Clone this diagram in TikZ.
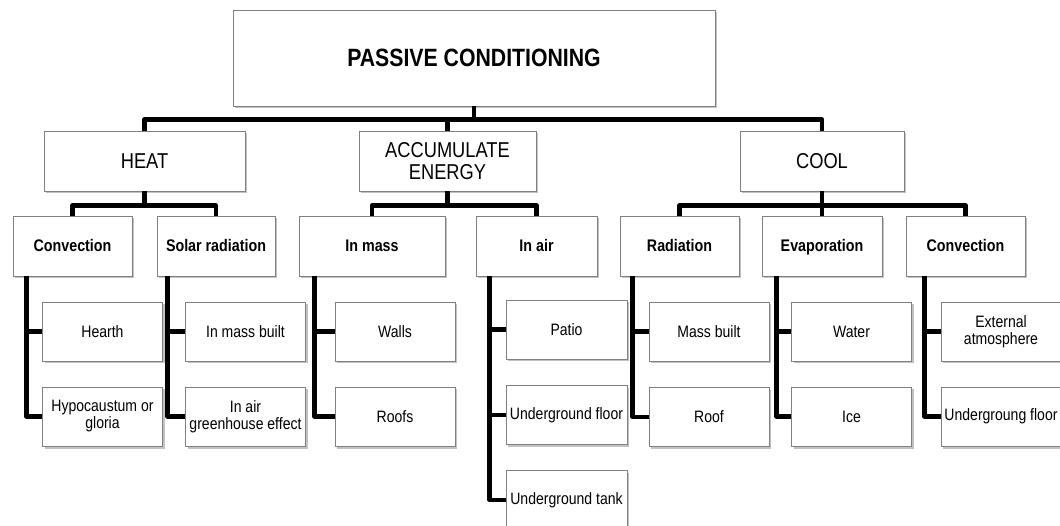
\documentclass[tikz,border=0pt]{standalone}
\usepackage{fontspec}
\setmainfont{Liberation Sans}[FakeStretch=0.85]
\usetikzlibrary{shadows}
\tikzset{
	box/.style={draw=black!50, line width=0.9pt, fill=white, inner sep=0pt, align=center,
		drop shadow={shadow xshift=2pt, shadow yshift=-2.5pt, fill=black!40, opacity=0.6}},
	rootbox/.style={box, minimum width=482pt, minimum height=96pt, font=\bfseries\fontsize{25}{28}\selectfont},
	topbox/.style={box, minimum height=60pt, font=\fontsize{21.5}{22}\selectfont},
	midbox/.style={box, minimum height=60pt, text height=12pt, text depth=0pt, font=\bfseries\fontsize{16.8}{18}\selectfont},
	leafbox/.style={box, minimum width=120pt, minimum height=59pt, font=\fontsize{16.5}{17}\selectfont},
	link/.style={line width=4.2pt, black, line join=round},
}
\begin{document}
\begin{tikzpicture}[x=1pt, y=-1pt]
	\useasboundingbox (0, 0) rectangle (1060, 526);
	\clip (0, 0) rectangle (1060, 526);
	% levels 1 and 2
	\node[rootbox] (root) at (474, 58) {PASSIVE CONDITIONING};
	\node[topbox, minimum width=201pt] (heat) at (144.5, 161) {HEAT};
	\node[topbox, minimum width=177pt] (accum) at (447.5, 161) {ACCUMULATE\\ENERGY};
	\node[topbox, minimum width=164pt] (cool) at (822, 161) {COOL};
	\node[midbox, minimum width=119pt] (conv) at (72.5, 246) {Convection};
	\node[midbox, minimum width=118pt] (solar) at (216, 246) {Solar radiation};
	\node[midbox, minimum width=146pt] (inmass) at (372, 246) {In mass};
	\node[midbox, minimum width=121pt] (inair) at (536.5, 246) {In air};
	\node[midbox, minimum width=119pt] (rad) at (679.5, 246) {Radiation};
	\node[midbox, minimum width=120pt] (evap) at (822, 246) {Evaporation};
	\node[midbox, minimum width=119pt] (convb) at (965.5, 246) {Convection};
	% leaves
	\node[leafbox] (hearth) at (102.5, 331.5) {Hearth};
	\node[leafbox] (hypo) at (102.5, 416.5) {Hypocaustum or\\gloria};
	\node[leafbox] (massbuilt) at (245.5, 331.5) {In mass built};
	\node[leafbox] (greenhouse) at (245.5, 416.5) {In air\\greenhouse effect};
	\node[leafbox] (walls) at (395, 331.5) {Walls};
	\node[leafbox] (roofs) at (395, 416.5) {Roofs};
	\node[leafbox, minimum width=121pt] (patio) at (566.5, 329.5) {Patio};
	\node[leafbox, minimum width=121pt] (ugfloor) at (566.5, 415) {Underground floor};
	\node[leafbox, minimum width=121pt] (ugtank) at (566.5, 500) {Underground tank};
	\node[leafbox] (massb) at (709, 331.5) {Mass built};
	\node[leafbox] (roof) at (709, 417) {Roof};
	\node[leafbox] (water) at (851.5, 331.5) {Water};
	\node[leafbox] (ice) at (851.5, 416.5) {Ice};
	\node[leafbox] (extatm) at (1001, 331.5) {External\\atmosphere};
	\node[leafbox] (ugfloorb) at (1001, 416.5) {Undergroung floor};
	% connectors
	\foreach \kid in {heat, accum, cool}
		\draw[link] (root.south) -- ++(0, 13) -| (\kid.north);
	\foreach \up/\kid in {heat/conv, heat/solar, accum/inmass, accum/inair, cool/rad, cool/evap, cool/convb}
		\draw[link] (\up.south) -- ++(0, 14) -| (\kid.north);
	\foreach \kid/\up/\dx in {hearth/conv/14, hypo/conv/14, massbuilt/solar/11, greenhouse/solar/11,
		walls/inmass/16, roofs/inmass/16, patio/inair/14, ugfloor/inair/14, ugtank/inair/14,
		massb/rad/13, roof/rad/13, water/evap/15, ice/evap/15, extatm/convb/19, ugfloorb/convb/19}
		\draw[link] (\kid.west) -| ([xshift=\dx pt]\up.south west);
\end{tikzpicture}
\end{document}
